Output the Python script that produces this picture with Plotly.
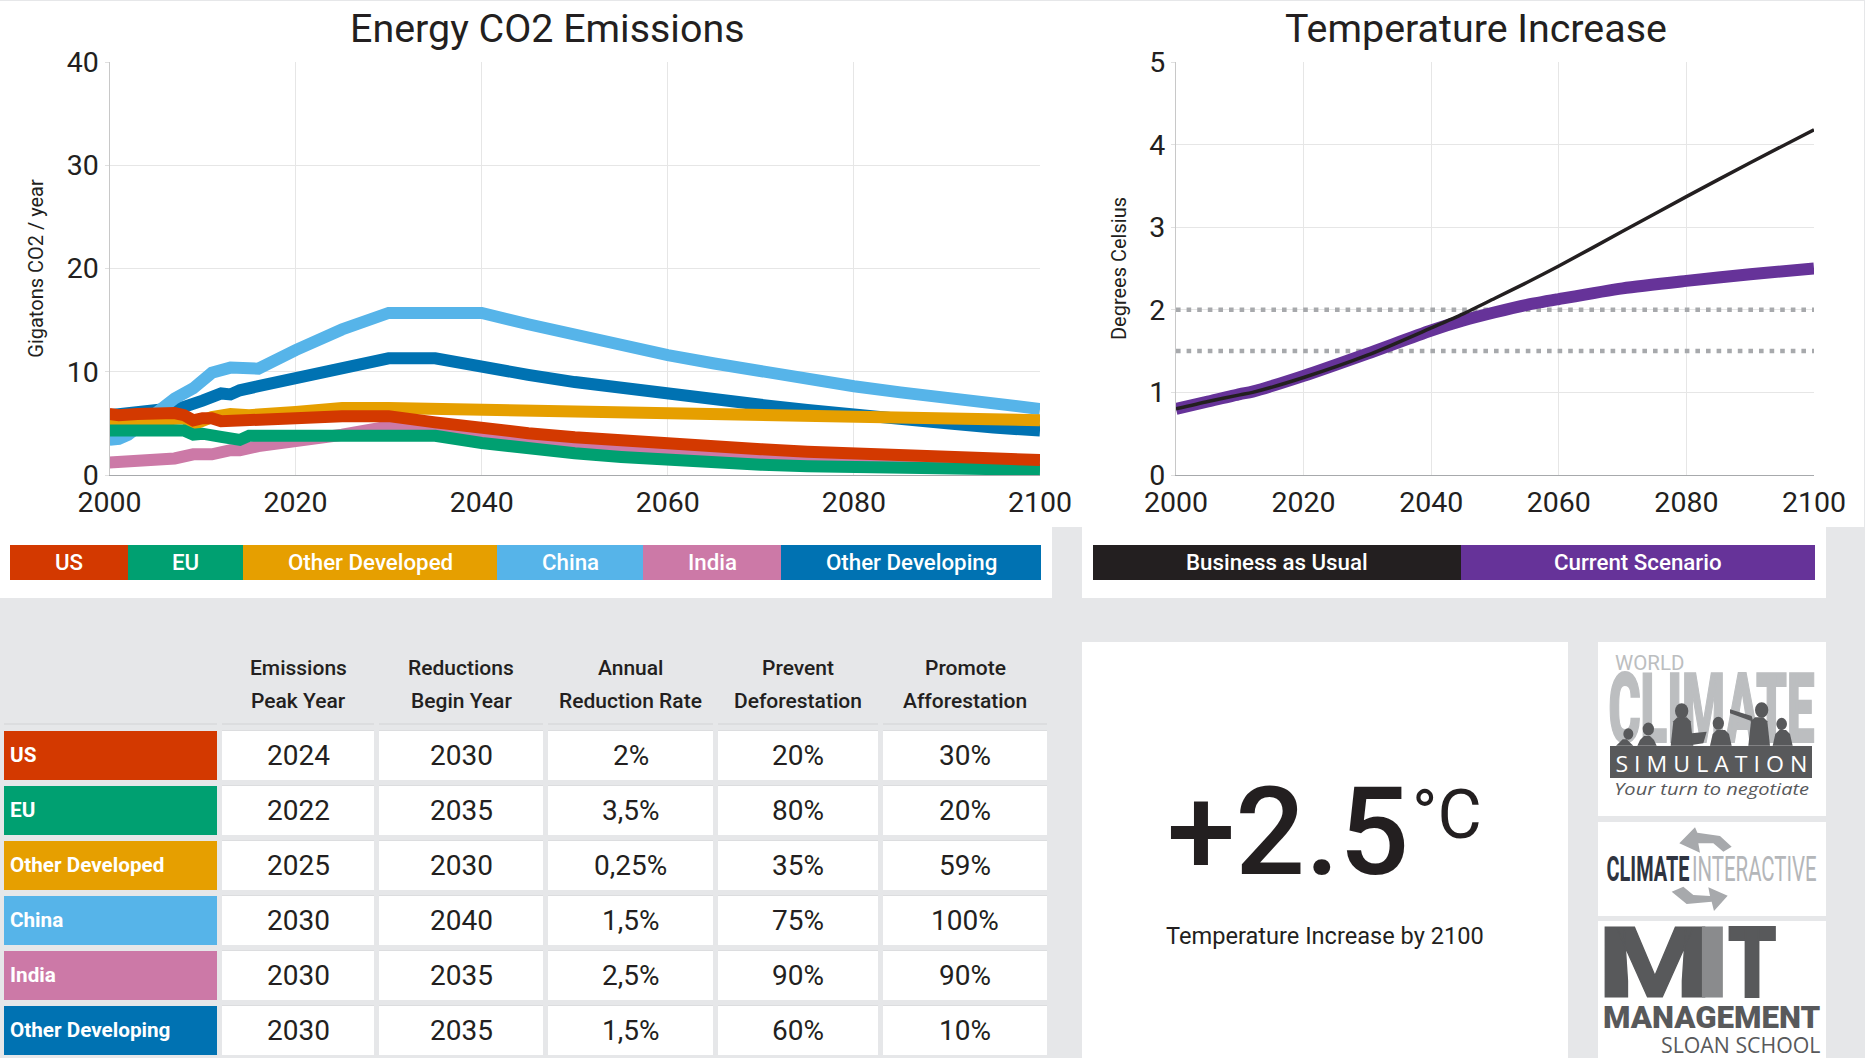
import json
import plotly.graph_objects as go

W, H = 1865, 1058
BG = "#e6e7e9"
INK = "#231f20"

# ---------- data ----------
regions = ["US", "EU", "Other Developed", "China", "India", "Other Developing"]
region_colors = ["#d33900", "#00a071", "#e69f00", "#56b4e9", "#cc79a7", "#0072b2"]

us_years = [2000, 2001, 2003, 2005, 2006, 2007, 2008, 2009, 2010, 2011, 2012, 2014, 2015, 2016, 2020, 2025, 2030, 2035, 2040, 2045, 2050, 2055, 2060, 2065, 2070, 2075, 2080, 2085, 2090, 2095, 2100]
us_values = [5.9, 5.8, 5.9, 6.0, 5.9, 6.0, 5.8, 5.3, 5.5, 5.5, 5.2, 5.3, 5.5, 5.4, 5.5, 5.7, 5.7, 5.1, 4.5, 4.05, 3.65, 3.3, 3.0, 2.7, 2.5, 2.25, 2.05, 1.85, 1.7, 1.55, 1.45]
eu_years = [2000, 2003, 2007, 2008, 2009, 2010, 2012, 2014, 2015, 2020, 2035, 2040, 2045, 2050, 2055, 2060, 2065, 2070, 2075, 2080, 2085, 2090, 2095, 2100]
eu_values = [4.3, 4.4, 4.4, 4.3, 3.9, 4.0, 3.7, 3.4, 3.8, 3.8, 3.8, 3.1, 2.55, 2.1, 1.75, 1.45, 1.2, 1.0, 0.85, 0.75, 0.65, 0.6, 0.55, 0.5]
odv_years = [2000, 2005, 2008, 2009, 2011, 2013, 2015, 2020, 2025, 2030, 2040, 2060, 2080, 2100]
odv_values = [5.0, 5.4, 5.5, 4.9, 5.6, 5.9, 5.8, 6.1, 6.5, 6.5, 6.3, 6.0, 5.6, 5.3]
china_years = [2000, 2001, 2002, 2003, 2005, 2007, 2009, 2010, 2011, 2013, 2014, 2016, 2020, 2025, 2030, 2040, 2045, 2050, 2055, 2060, 2065, 2070, 2075, 2080, 2085, 2090, 2095, 2100]
china_values = [3.4, 3.5, 3.9, 4.6, 6.2, 7.4, 8.4, 9.2, 9.9, 10.4, 10.4, 10.3, 12.1, 14.1, 15.7, 15.7, 14.6, 13.5, 12.5, 11.6, 10.8, 10.0, 9.3, 8.6, 8.0, 7.4, 6.9, 6.4]
india_years = [2000, 2003, 2005, 2007, 2009, 2011, 2013, 2014, 2016, 2020, 2025, 2030, 2035, 2040, 2045, 2050, 2055, 2060, 2065, 2070, 2075, 2080, 2085, 2090, 2095, 2100]
india_values = [1.2, 1.3, 1.4, 1.6, 2.0, 2.0, 2.4, 2.4, 2.8, 3.2, 3.9, 4.7, 4.7, 3.9, 3.4, 3.0, 2.6, 2.3, 2.0, 1.8, 1.6, 1.4, 1.25, 1.1, 0.95, 0.85]
odg_years = [2000, 2005, 2008, 2010, 2012, 2013, 2014, 2016, 2020, 2025, 2030, 2035, 2040, 2045, 2050, 2055, 2060, 2065, 2070, 2075, 2080, 2085, 2090, 2095, 2100]
odg_values = [5.8, 6.3, 6.6, 7.2, 7.9, 7.8, 8.2, 8.6, 9.3, 10.2, 11.3, 11.3, 10.4, 9.7, 9.0, 8.4, 7.8, 7.3, 6.8, 6.3, 5.8, 5.4, 5.0, 4.6, 4.3]

temp_years = [2000, 2005, 2010, 2012, 2020, 2030, 2040, 2045, 2050, 2055, 2060, 2070, 2080, 2090, 2100]
bau_values = [0.8, 0.89, 0.97, 1.0, 1.18, 1.45, 1.78, 1.95, 2.14, 2.33, 2.53, 2.95, 3.37, 3.78, 4.18]
current_values = [0.8, 0.89, 0.98, 1.01, 1.2, 1.47, 1.75, 1.87, 1.97, 2.06, 2.13, 2.26, 2.35, 2.43, 2.5]
limit_years = [2000, 2100]
limit_2 = [2, 2]
limit_15 = [1.5, 1.5]
temp_names = ["Business as Usual", "Current Scenario"]
temp_colors = ["#231f20", "#663399"]

table_head = [["Emissions", "Peak Year"], ["Reductions", "Begin Year"], ["Annual", "Reduction Rate"],
              ["Prevent", "Deforestation"], ["Promote", "Afforestation"]]
peak_year = ["2024", "2022", "2025", "2030", "2030", "2030"]
begin_year = ["2030", "2035", "2030", "2040", "2035", "2035"]
reduction_rate = ["2%", "3,5%", "0,25%", "1,5%", "2,5%", "1,5%"]
deforestation = ["20%", "80%", "35%", "75%", "90%", "60%"]
afforestation = ["30%", "20%", "59%", "100%", "90%", "10%"]

# ---------- layout helpers (pixel boxes on the page) ----------
def fx(x): return x / W
def fy(y): return 1 - y / H

shapes, notes, squeezes = [], [], []

def rect(x0, y0, x1, y1, fill, layer="below"):
    shapes.append(dict(type="rect", xref="paper", yref="paper", x0=fx(x0), x1=fx(x1), y0=fy(y0), y1=fy(y1),
                       fillcolor=fill, line_width=0, layer=layer))

def text(t, x, y, size, color=INK, weight=400, anchor="center", family="Roboto", style="normal", angle=0,
         sx=1, sy=1, stroke=0, under=False):
    notes.append(dict(text=t, x=fx(x), y=fy(y), xref="paper", yref="paper", xanchor=anchor, yanchor="middle",
                      showarrow=False, textangle=angle,
                      font=dict(family=family, size=size, color=color, weight=weight, style=style)))
    if sx != 1 or sy != 1 or stroke or under:
        squeezes.append([t, size, sx, sy, stroke, color, under])

def poly(points, fill, ox, oy, k=1/3, layer="above"):
    d = "M" + " L".join(f"{fx(ox + a * k):.5f},{fy(oy + b * k):.5f}" for a, b in points) + " Z"
    shapes.append(dict(type="path", xref="paper", yref="paper", path=d, fillcolor=fill, line_width=0, layer=layer))

def disc(cx, cy, rx, ry, fill, ox, oy, k=1/3):
    shapes.append(dict(type="circle", xref="paper", yref="paper", x0=fx(ox + (cx - rx) * k), x1=fx(ox + (cx + rx) * k),
                       y0=fy(oy + (cy - ry) * k), y1=fy(oy + (cy + ry) * k), fillcolor=fill, line_width=0, layer="above"))

# panels
rect(0, 1, 1864, 527, "white")
rect(0, 527, 1052, 598, "white")
rect(1082, 527, 1826, 598, "white")
rect(1082, 642, 1568, 1058, "white")
rect(1598, 642, 1826, 816, "white")
rect(1598, 822, 1826, 916, "white")
rect(1598, 921, 1826, 1058, "white")

# legends
edges_l = [10, 128, 243, 497, 643, 781, 1041]
for i, name in enumerate(regions):
    rect(edges_l[i], 545, edges_l[i + 1], 580, region_colors[i])
    text(name, (edges_l[i] + edges_l[i + 1]) / 2, 562, 22.3, "white", 500)
edges_r = [1093, 1461, 1815]
for i, name in enumerate(temp_names):
    rect(edges_r[i], 545, edges_r[i + 1], 580, temp_colors[i])
    text(name, (edges_r[i] + edges_r[i + 1]) / 2, 562, 22.3, "white", 500)

# titles
text("Energy CO2 Emissions", 547, 28, 39.4)
text("Temperature Increase", 1476, 28, 39.4)

# table
col_edges = [(222, 374), (379, 543), (548, 713), (718, 878), (883, 1047)]
row_edges = [(731, 780), (786, 835), (841, 890), (896, 945), (951, 1000), (1006, 1055)]
columns = [peak_year, begin_year, reduction_rate, deforestation, afforestation]
rect(4, 723, 217, 725, "#dcdddf")
for (x0, x1), head, col in zip(col_edges, table_head, columns):
    rect(x0, 723, x1, 725, "#dcdddf")
    text(head[0], (x0 + x1) / 2, 668, 21, INK, 500)
    text(head[1], (x0 + x1) / 2, 701, 21, INK, 500)
    for (y0, y1), val in zip(row_edges, col):
        rect(x0, y0 - 1, x1, y0, "#dcdddf")
        rect(x0, y0, x1, y1, "white")
        text(val, (x0 + x1) / 2, (y0 + y1) / 2, 28)
for (y0, y1), name, color in zip(row_edges, regions, region_colors):
    rect(4, y0, 217, y1, color)
    text(name, 8, (y0 + y1) / 2 - 1, 20.7, "white", 700, anchor="left")

# big number
text("+2.5", 1288, 832, 123, INK, 500)
text("°C", 1447, 815, 68, INK, 400)
text("Temperature Increase by 2100", 1325, 936, 23.6)

# ---------- logos ----------
OX, OY = 1580, 630
G1, G2, G3 = "#bcbec0", "#58595b", "#8a8b8d"
text("WORLD", 1649, 663, 20.5, G1)
text("CLIMATE", 1711, 709, 44, G1, 900, sx=1.115, sy=2.2, stroke=0.9, under=True)
shapes.append(dict(type="rect", xref="paper", yref="paper", x0=fx(1610), x1=fx(1812), y0=fy(746), y1=fy(778),
                   fillcolor=G2, line_width=0, layer="above"))
people = [(145, 312, 15, 108, 160, 328), (205, 297, 17, 172, 230, 318), (305, 243, 20, 272, 340, 262),
          (415, 280, 17, 390, 455, 300), (545, 240, 20, 505, 570, 262), (605, 282, 16, 578, 638, 300)]
for cx, cy, r, a, b, top in people:
    disc(cx, cy, r, r * 1.15, G2, OX, OY)
    poly([(a, 347), (a + 8, top + 12), (a + 20, top), (b - 20, top), (b - 8, top + 12), (b, 347)], G2, OX, OY)
poly([(450, 238), (515, 258), (520, 275), (450, 250)], G2, OX, OY)
poly([(335, 310), (380, 305), (370, 340), (335, 345)], G2, OX, OY)
text("S I M U L A T I O N", 1711, 763, 22, "white", 400, family="Open Sans", sx=1.05)
text("Your turn to negotiate", 1711, 788, 17, G2, 400, family="Open Sans", style="italic", sx=1.18)

# logo 2 arrows
A1, A2 = "#a7a9ac", "#c9cacc"
poly([(345, 592), (298, 640), (360, 668), (355, 640), (400, 640), (430, 665), (455, 650), (420, 618), (352, 608)], A1, OX, OY)
poly([(443, 797), (385, 772), (390, 798), (340, 795), (310, 770), (275, 785), (320, 822), (395, 815), (402, 843)], A1, OX, OY)
text("CLIMATE", 1647.5, 869, 24, "#2f3440", 700, sx=0.83, sy=1.46)
text("INTERACTIVE", 1754, 869, 24.01, "#b4b6b9", 400, sx=0.85, sy=1.46)

# logo 3
text("M", 1655, 963, 96, G2, 900, sx=1.35, sy=1.02, stroke=1)
text("I", 1712.5, 963, 96.01, G3, 900, sx=1.2, sy=1.02, stroke=1)
text("T", 1752.5, 963, 96.02, G2, 900, sx=0.8, sy=1.02, stroke=2)
text("MANAGEMENT", 1712, 1017, 31.3, G2, 900)
text("SLOAN SCHOOL", 1822, 1044, 21.3, G2, 400, anchor="right", family="Open Sans")

# ---------- traces ----------
fig = go.Figure()
left = [("Other Developing", odg_years, odg_values), ("India", india_years, india_values),
        ("China", china_years, china_values), ("Other Developed", odv_years, odv_values),
        ("EU", eu_years, eu_values), ("US", us_years, us_values)]
for name, xs, ys in left:
    fig.add_trace(go.Scatter(x=xs, y=ys, name=name, mode="lines", xaxis="x", yaxis="y",
                             line=dict(color=region_colors[regions.index(name)], width=12)))
for ys, nm in ((limit_2, "2 °C"), (limit_15, "1.5 °C")):
    fig.add_trace(go.Scatter(x=limit_years, y=ys, name=nm, mode="lines", xaxis="x2", yaxis="y2",
                             line=dict(color="#a7a9ac", width=4.5, dash="4.6px,6px")))
fig.add_trace(go.Scatter(x=temp_years, y=current_values, name=temp_names[1], mode="lines", xaxis="x2", yaxis="y2",
                         line=dict(color=temp_colors[1], width=12, shape="spline", smoothing=0.7)))
fig.add_trace(go.Scatter(x=temp_years, y=bau_values, name=temp_names[0], mode="lines", xaxis="x2", yaxis="y2",
                         line=dict(color=temp_colors[0], width=3.5, shape="spline", smoothing=0.7)))

tickfont = dict(family="Roboto", size=28.5, color=INK)
def xax(domain, anchor):
    return dict(domain=domain, range=[2000, 2100], tickmode="linear", tick0=2000, dtick=20, anchor=anchor,
                showgrid=True, gridcolor="#e6e6e6", gridwidth=1, showline=True, linecolor="#a7a9ac", linewidth=1,
                zeroline=False, ticks="", tickfont=tickfont, fixedrange=True, automargin=False, ticklabelstandoff=2)
def yax(domain, anchor, top, dtick, title, standoff):
    return dict(domain=domain, range=[0, top], dtick=dtick, anchor=anchor, showgrid=True, gridcolor="#e6e6e6",
                gridwidth=1, showline=True, linecolor="#c8c8c8", linewidth=1, zeroline=False, ticks="outside",
                ticklen=4, tickcolor="#e0e0e0", tickfont=tickfont, fixedrange=True, automargin=False,
                title=dict(text=title, font=dict(family="Roboto", size=20, color=INK), standoff=standoff))

fig.update_layout(
    width=W, height=H, margin=dict(l=0, r=0, t=0, b=0, pad=0), paper_bgcolor=BG, plot_bgcolor="rgba(0,0,0,0)",
    showlegend=False, autosize=False,
    xaxis=xax([fx(109.5), fx(1040)], "y"),
    yaxis=yax([fy(475), fy(62)], "x", 40, 10, "Gigatons CO2 / year", 17),
    xaxis2=xax([fx(1176), fx(1814)], "y2"),
    yaxis2=yax([fy(475), fy(62)], "x2", 5, 1, "Degrees Celsius", 17),
    shapes=shapes, annotations=notes,
)

post = """
document.body.style.margin='0';
document.body.style.overflow='hidden';
var sq=%s;
document.querySelectorAll('.annotation text').forEach(function(t){
  var fs=parseFloat(t.style.fontSize);
  sq.forEach(function(s){
    if(t.textContent===s[0] && Math.abs(fs-s[1])<0.005){
      var b=t.getBBox(),cx=b.x+b.width/2,cy=b.y+b.height/2;
      t.setAttribute('transform','translate('+cx+','+cy+') scale('+s[2]+','+s[3]+') translate('+(-cx)+','+(-cy)+')');
      if(s[4]){t.style.stroke=s[5];t.style.strokeWidth=s[4]+'px';}
      if(s[6]){
        var g=t.closest('.annotation');
        var l=document.querySelector('.layer-above .shapelayer');
        if(g&&l){l.insertBefore(g,l.firstChild);}
      }
    }
  });
});
""" % json.dumps(squeezes)
fig.write_html("out.html", post_script=post, config={"displayModeBar": False})
